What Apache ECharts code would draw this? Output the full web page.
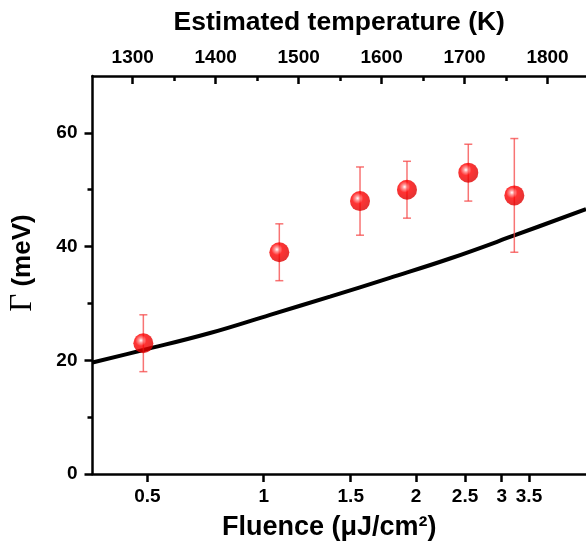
<!DOCTYPE html>
<html>
<head>
<meta charset="utf-8">
<script src="https://cdn.jsdelivr.net/npm/echarts@6/dist/echarts.min.js"></script>
<style>
html,body{margin:0;padding:0;background:#fff;}
#chart{width:586px;height:548px;}
</style>
</head>
<body>
<div id="chart"></div>
<script>
// Bottom axis: fluence tick labels and the estimated temperature each sits at
const fluenceTicks = [0.5, 1, 1.5, 2, 2.5, 3, 3.5];
const fluenceTickTemps = [1317.6, 1457.9, 1562.8, 1641.5, 1700.6, 1744.8, 1777.7];
// Top axis: temperature ticks
const tempTicks = [1300, 1400, 1500, 1600, 1700, 1800];
const tempMinorTicks = [1350, 1450, 1550, 1650, 1750];
// Left axis
const gammaTicks = [0, 20, 40, 60];
const gammaMinorTicks = [10, 30, 50];
// Measured points (x as estimated temperature, K)
const pointTemps = [1312.8, 1476.7, 1574.0, 1630.6, 1704.5, 1760.0];
const pointGamma = [23, 39, 48, 50, 53, 49];
const errLow = [18, 34, 42, 45, 48, 39];
const errHigh = [28, 44, 54, 55, 58, 59];
// Model curve
const curveTemps = [1251.5, 1312.8, 1393.2, 1465.6, 1537.8, 1610.0, 1682.5, 1760.8, 1846.4];
const curveGamma = [19.6, 21.8, 24.8, 28.0, 31.2, 34.5, 37.9, 42.0, 46.6];

const T_MIN = 1251.5, T_MAX = 1846.4;
const G_MIN = 0, G_MAX = 70;

const FONT = 'Liberation Sans';
const AX = {color: '#000', width: 2.5};

const chart = echarts.init(document.getElementById('chart'), null, {renderer: 'canvas'});

const scatterData = pointTemps.map((t, i) => [t, pointGamma[i]]);
const errData = pointTemps.map((t, i) => [t, errLow[i], errHigh[i]]);
const curveData = curveTemps.map((t, i) => [t, curveGamma[i]]);

function fluenceLabel(v) {
  for (let i = 0; i < fluenceTickTemps.length; i++) {
    if (Math.abs(fluenceTickTemps[i] - v) < 1e-6) return String(fluenceTicks[i]);
  }
  return '';
}

const option = {
  backgroundColor: '#fff',
  animation: false,
  grid: {left: 92.5, right: 0, top: 76, bottom: 74, containLabel: false, outerBoundsMode: 'none'},
  xAxis: [
    {
      type: 'value', position: 'bottom', min: T_MIN, max: T_MAX,
      axisLine: {show: true, onZero: false, lineStyle: AX},
      axisTick: {show: true, inside: false, length: 8, lineStyle: AX, customValues: fluenceTickTemps},
      axisLabel: {show: true, customValues: fluenceTickTemps, formatter: fluenceLabel,
        fontFamily: FONT, fontWeight: 'bold', fontSize: 19, color: '#000', margin: 13},
      splitLine: {show: false},
      name: 'Fluence (μJ/cm²)', nameLocation: 'middle', nameGap: 40,
      nameTextStyle: {fontFamily: FONT, fontWeight: 'bold', fontSize: 27, color: '#000',
        padding: [0, 20, 0, 0]}
    },
    {
      type: 'value', position: 'top', min: T_MIN, max: T_MAX,
      axisLine: {show: true, onZero: false, lineStyle: AX},
      axisTick: {show: true, inside: true, length: 8, lineStyle: AX, customValues: tempTicks},
      axisLabel: {show: true, customValues: tempTicks, formatter: v => String(v),
        fontFamily: FONT, fontWeight: 'bold', fontSize: 19, color: '#000', margin: 9},
      splitLine: {show: false},
      name: 'Estimated temperature (K)', nameLocation: 'middle', nameGap: 40,
      nameTextStyle: {fontFamily: FONT, fontWeight: 'bold', fontSize: 26.5, color: '#000'}
    },
    {
      type: 'value', position: 'top', min: T_MIN, max: T_MAX,
      axisLine: {show: false, onZero: false},
      axisTick: {show: true, inside: true, length: 5, lineStyle: AX, customValues: tempMinorTicks},
      axisLabel: {show: false},
      splitLine: {show: false}
    }
  ],
  yAxis: [
    {
      type: 'value', position: 'left', min: G_MIN, max: G_MAX,
      axisLine: {show: true, onZero: false, lineStyle: AX},
      axisTick: {show: true, inside: false, length: 8, lineStyle: AX, customValues: gammaTicks},
      axisLabel: {show: true, customValues: gammaTicks,
        fontFamily: FONT, fontWeight: 'bold', fontSize: 19, color: '#000', margin: 15},
      splitLine: {show: false},
      name: '{g|Γ} (meV)', nameLocation: 'middle', nameGap: 54, nameRotate: 90,
      nameTextStyle: {fontFamily: FONT, fontWeight: 'bold', fontSize: 26, color: '#000',
        padding: [0, 0, 0, 24],
        rich: {g: {fontFamily: 'Liberation Serif', fontWeight: 'normal', fontSize: 31, color: '#000'}}}
    },
    {
      type: 'value', position: 'left', min: G_MIN, max: G_MAX,
      axisLine: {show: false, onZero: false},
      axisTick: {show: true, inside: false, length: 5, lineStyle: AX, customValues: gammaMinorTicks},
      axisLabel: {show: false},
      splitLine: {show: false}
    }
  ],
  series: [
    {
      type: 'line', xAxisIndex: 1, yAxisIndex: 0, data: curveData,
      smooth: 0.4, showSymbol: false, symbol: 'none',
      lineStyle: {color: '#000', width: 4}, z: 2
    },
    {
      type: 'custom', xAxisIndex: 1, yAxisIndex: 0, data: errData, z: 3,
      renderItem: function (params, api) {
        const x = api.value(0);
        const lo = api.coord([x, api.value(1)]);
        const hi = api.coord([x, api.value(2)]);
        const hw = 4;
        const style = {stroke: 'rgba(245,70,70,0.75)', lineWidth: 1.5};
        return {
          type: 'group',
          children: [
            {type: 'line', shape: {x1: lo[0], y1: lo[1], x2: hi[0], y2: hi[1]}, style},
            {type: 'line', shape: {x1: hi[0] - hw, y1: hi[1], x2: hi[0] + hw, y2: hi[1]}, style},
            {type: 'line', shape: {x1: lo[0] - hw, y1: lo[1], x2: lo[0] + hw, y2: lo[1]}, style}
          ]
        };
      }
    },
    {
      type: 'scatter', xAxisIndex: 1, yAxisIndex: 0, data: scatterData, z: 4,
      symbol: 'circle', symbolSize: 20,
      itemStyle: {
        color: {
          type: 'radial', x: 0.38, y: 0.36, r: 0.62,
          colorStops: [
            {offset: 0, color: '#ffffff'},
            {offset: 0.18, color: '#ff8080'},
            {offset: 0.45, color: '#ff0000'},
            {offset: 1, color: '#e00000'}
          ]
        }
      }
    }
  ]
};
chart.setOption(option);
</script>
</body>
</html>
